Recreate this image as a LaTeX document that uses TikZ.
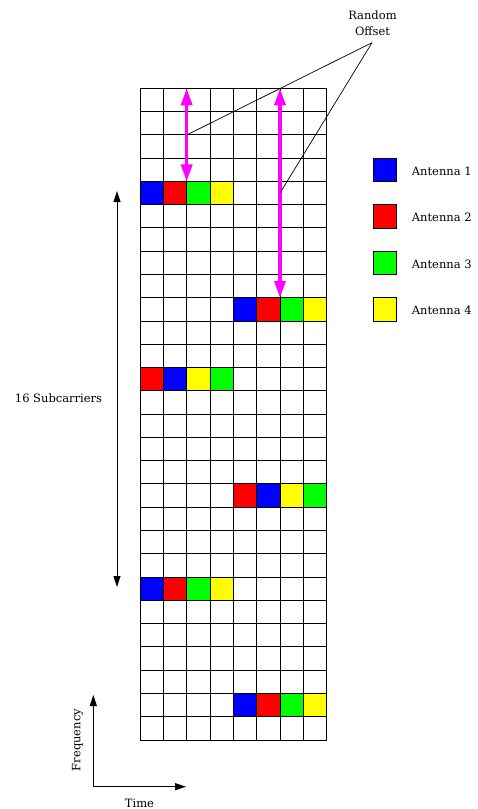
\documentclass[tikz,border=0pt]{standalone}
\usepackage{fontspec}
\setmainfont{DejaVu Serif}
\usetikzlibrary{arrows.meta}
\definecolor{cB}{RGB}{0,0,255}
\definecolor{cR}{RGB}{255,0,0}
\definecolor{cG}{RGB}{0,255,0}
\definecolor{cY}{RGB}{255,255,0}
\definecolor{cM}{RGB}{255,0,255}
\tikzset{
  gridline/.style={line width=1pt, black},
  magarrow/.style={cM, line width=3.5pt, {Triangle[length=17pt,width=11pt]}-{Triangle[length=17pt,width=11pt]}},
  blkarrow/.style={black, line width=0.9pt, -{Triangle[length=11pt,width=7pt]}},
  thinline/.style={black, line width=0.7pt},
  legsq/.style={draw=black, line width=0.9pt, minimum width=23.3pt, minimum height=23.3pt, inner sep=0pt},
  lbl/.style={font=\fontsize{11.5}{16}\selectfont, inner sep=0pt},
}
\begin{document}
\begin{tikzpicture}[x=1pt,y=-1pt]
\useasboundingbox (0,0) rectangle (477,809);
\def\cw{23.333}
\def\rh{23.275}
% coloured cells
\foreach \r/\c/\col in {4/0/cB,4/1/cR,4/2/cG,4/3/cY,
                         9/4/cB,9/5/cR,9/6/cG,9/7/cY,
                         12/0/cR,12/1/cB,12/2/cY,12/3/cG,
                         17/4/cR,17/5/cB,17/6/cY,17/7/cG,
                         21/0/cB,21/1/cR,21/2/cG,21/3/cY,
                         26/4/cB,26/5/cR,26/6/cG,26/7/cY}
  \fill[\col] ({140+\c*\cw},{88.3+\r*\rh}) rectangle ++(\cw,\rh);
% grid
\foreach \i in {0,...,8}
  \draw[gridline] ({140+\i*\cw},88.3) -- ++(0,651.7);
\foreach \j in {0,...,28}
  \draw[gridline] (140,{88.3+\j*\rh}) -- ++(186.67,0);
% magenta offset arrows
\coordinate (a1t) at (186.67,88.3);
\coordinate (a1b) at (186.67,181.4);
\coordinate (a2t) at (280,88.3);
\coordinate (a2b) at (280,297.8);
\draw[magarrow] (a1t) -- (a1b);
\draw[magarrow] (a2t) -- (a2b);
% random offset label
\node[lbl, align=center] (ro) at (372.5,23.5) {Random\\Offset};
\coordinate (roc) at (372,42.7);
\coordinate (m1) at (186.67,135);
\coordinate (m2) at (280,193);
\draw[thinline] (roc) -- (m1);
\draw[thinline] (roc) -- (m2);
% 16 subcarriers
\coordinate (st) at (117,191);
\coordinate (sb) at (117,587);
\draw[blkarrow, {Triangle[length=11pt,width=7pt]}-{Triangle[length=11pt,width=7pt]}] (st) -- (sb);
\node[lbl] (sc) at (58.5,398) {16 Subcarriers};
% axes
\coordinate (org) at (93.3,786.7);
\coordinate (fy) at (93.3,695);
\coordinate (tx) at (186,786.7);
\draw[blkarrow] (org) -- (fy);
\draw[blkarrow] (org) -- (tx);
\node[lbl, rotate=90] (freq) at (77.5,740) {Frequency};
\node[lbl] (time) at (139.5,803) {Time};
% legend
\node[legsq, fill=cB] (l1) at (384.7,169.7) {};
\node[legsq, fill=cR] (l2) at (384.7,216.3) {};
\node[legsq, fill=cG] (l3) at (384.7,262.8) {};
\node[legsq, fill=cY] (l4) at (384.7,309.4) {};
\node[lbl, anchor=west] (t1) at (411.7,171) {Antenna 1};
\node[lbl, anchor=west] (t2) at (411.7,217.6) {Antenna 2};
\node[lbl, anchor=west] (t3) at (411.7,264.1) {Antenna 3};
\node[lbl, anchor=west] (t4) at (411.7,310.7) {Antenna 4};
\end{tikzpicture}
\end{document}
